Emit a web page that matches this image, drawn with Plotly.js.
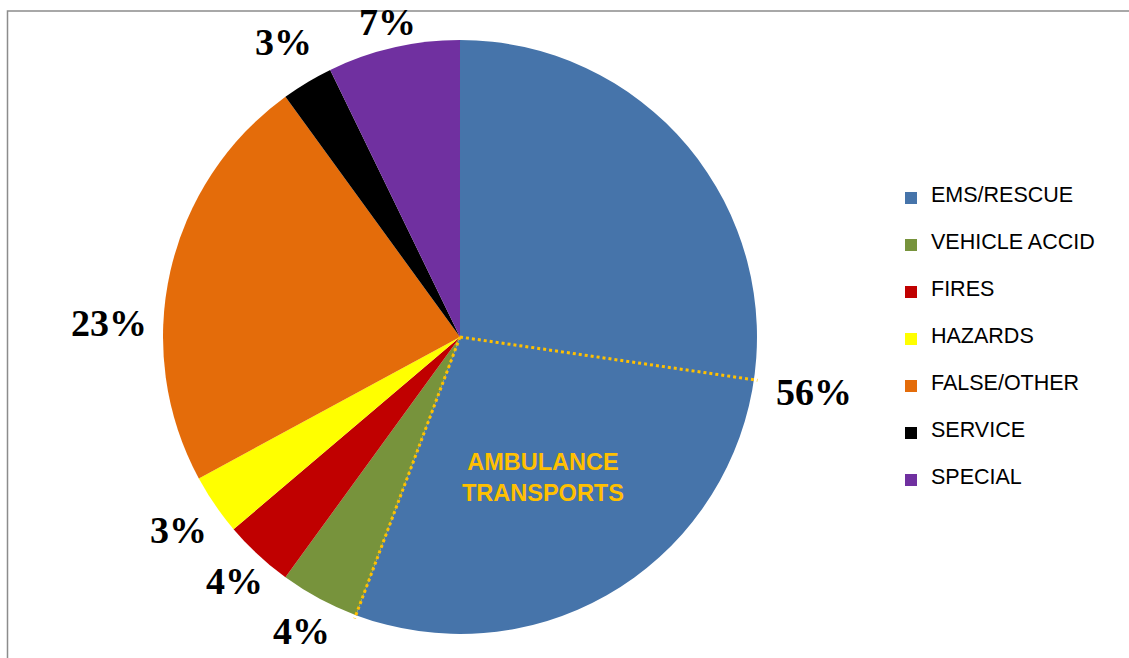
<!DOCTYPE html>
<html>
<head>
<meta charset="utf-8">
<script src="https://cdn.plot.ly/plotly-3.0.1.min.js"></script>
<style>html,body{margin:0;padding:0;background:#fff;}#chart{width:1129px;height:658px;}</style>
</head>
<body>
<div id="chart"></div>
<script>
// ---- data ----
const labels = ['EMS/RESCUE', 'VEHICLE ACCID', 'FIRES', 'HAZARDS', 'FALSE/OTHER', 'SERVICE', 'SPECIAL'];
const values = [55.7, 4.3, 3.8, 3.3, 22.9, 2.8, 7.2];
const ambulanceShare = 28.4;           // part of EMS/RESCUE (percent of all calls)
const ambulanceLabel = 'AMBULANCE<br>TRANSPORTS';
const colors = ['#4674AA', '#77933C', '#C00000', '#FFFF00', '#E46C0A', '#000000', '#7030A0'];

// ---- layout geometry / label placement (styling, not data) ----
const W = 1129, H = 658;
const CX = 460, CY = 337, R = 297;
const labelNudgeDeg = [-1.5, 0, 0, 0, -10.5, 0, 0];
const labelNudgeRad = [6, -3, -9, -2, 0, 6, -8];
const LABEL_SIZE = 38;

const total = values.reduce((a, b) => a + b, 0);
const px2x = px => px / W;
const py2y = py => 1 - py / H;
function pt(angleDeg, r) {
  const a = angleDeg * Math.PI / 180;
  return [CX + r * Math.sin(a), CY - r * Math.cos(a)];
}

// percentage labels
const annotations = [];
let cum = 0;
values.forEach((v, i) => {
  const mid = (cum + v / 2) / total * 360 + labelNudgeDeg[i];
  cum += v;
  const txt = Math.round(v / total * 100) + '%';
  const nd = txt.length - 1;
  const hw = (0.5 * nd + 1.0) * LABEL_SIZE / 2;
  const hh = 12;
  const a = mid * Math.PI / 180;
  const ext = Math.abs(Math.sin(a)) * hw + Math.abs(Math.cos(a)) * hh;
  const [x, y] = pt(mid, R + 16 + ext + labelNudgeRad[i]);
  annotations.push({
    text: '<b>' + txt + '</b>', x: px2x(x), y: py2y(y), xref: 'paper', yref: 'paper',
    xanchor: 'center', yanchor: 'middle', showarrow: false,
    font: {family: '"Liberation Serif", "Times New Roman", serif', size: LABEL_SIZE, color: '#000'}
  });
});

// ambulance sub-sector
const ambStart = (values[0] - ambulanceShare) / total * 360;
const ambEnd = values[0] / total * 360;
const [ax, ay] = pt((ambStart + ambEnd) / 2, R * 0.55);
annotations.push({
  text: '<b>' + ambulanceLabel + '</b>', x: px2x(ax), y: py2y(ay), xref: 'paper', yref: 'paper',
  xanchor: 'center', yanchor: 'middle', showarrow: false,
  font: {family: '"Liberation Sans", Arial, sans-serif', size: 23.5, color: '#FFC000'}
});

const shapes = [];
[ambStart, ambEnd].forEach(ang => {
  const [ex, ey] = pt(ang, R * 1.012);
  shapes.push({
    type: 'line', xref: 'paper', yref: 'paper',
    x0: px2x(CX), y0: py2y(CY), x1: px2x(ex), y1: py2y(ey),
    line: {color: '#FFC000', width: 3, dash: 'dot'}
  });
});
// outer frame
shapes.push({
  type: 'rect', xref: 'paper', yref: 'paper', layer: 'below',
  x0: px2x(7.5), x1: 1.05, y0: -0.05, y1: py2y(11),
  line: {color: '#8C8C8C', width: 1.5}, fillcolor: 'rgba(0,0,0,0)'
});

// legend labels: 3-line entries to reproduce the wide spacing
const legendText = labels.map(l => '\u00a0<br><span style="font-size:21.5px">' + l + '</span><br>\u00a0');

const trace = {
  type: 'pie',
  labels: legendText,
  values: values,
  sort: false,
  direction: 'clockwise',
  rotation: 0,
  marker: {colors: colors, line: {width: 0}},
  textinfo: 'none',
  hoverinfo: 'skip',
  domain: {x: [px2x(CX - R), px2x(CX + R)], y: [py2y(CY + R), py2y(CY - R)]}
};

const layout = {
  width: W, height: H,
  margin: {l: 0, r: 0, t: 0, b: 0},
  paper_bgcolor: '#fff',
  showlegend: true,
  legend: {
    x: px2x(891), y: py2y(169.5), xanchor: 'left', yanchor: 'top',
    font: {family: '"Liberation Sans", Arial, sans-serif', size: 11.28, color: '#000'},
    bgcolor: 'rgba(0,0,0,0)'
  },
  annotations: annotations,
  shapes: shapes
};

Plotly.newPlot('chart', [trace], layout, {displayModeBar: false, staticPlot: true});
</script>
</body>
</html>
